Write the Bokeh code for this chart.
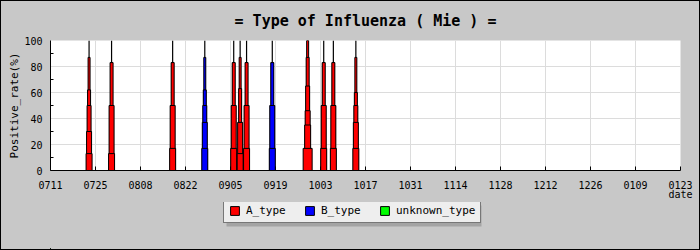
from datetime import datetime
from bokeh.plotting import figure
from bokeh.layouts import column
from bokeh.models import (Range1d, FixedTicker, DatetimeTickFormatter, Legend, LegendItem,
                          ColumnDataSource, BoxAnnotation)
from bokeh.embed import file_html
from bokeh.resources import INLINE

# ---------------- data ----------------
tick_dates = ["2009-07-11", "2009-07-25", "2009-08-08", "2009-08-22", "2009-09-05",
              "2009-09-19", "2009-10-03", "2009-10-17", "2009-10-31", "2009-11-14",
              "2009-11-28", "2009-12-12", "2009-12-26", "2010-01-09", "2010-01-23"]
spike_dates = ["2009-07-23", "2009-07-30", "2009-08-18", "2009-08-28", "2009-09-06",
               "2009-09-08", "2009-09-10", "2009-09-18", "2009-09-29", "2009-10-04",
               "2009-10-07", "2009-10-14"]
spike_types = ["A_type", "A_type", "A_type", "B_type", "A_type", "A_type",
               "A_type", "B_type", "A_type", "A_type", "A_type", "A_type"]
# positive rate (%) of the nested bars of each spike, from the thinnest to the widest
rate_peak = [100, 100, 100, 100, 100, 100, 100, 100, 100, 100, 100, 100]
rate_l1 = [87, 83, 83, 87, 83, 87, 83, 83, 100, 83, 83, 87]
rate_l2 = [62, 83, 83, 62, 83, 63, 83, 83, 87, 83, 83, 60]
rate_l3 = [50, 50, 50, 50, 50, 37, 50, 50, 65, 50, 50, 50]
rate_l4 = [30, 50, 50, 37, 50, 37, 50, 50, 46, 50, 50, 37]
rate_l5 = [13, 13, 17, 17, 17, 13, 17, 17, 35, 17, 17, 17]
rate_l6 = [0, 0, 0, 0, 0, 0, 0, 0, 17, 0, 0, 0]
legend_labels = ["A_type", "B_type", "unknown_type"]
type_colors = {"A_type": "#ff0000", "B_type": "#0000ff", "unknown_type": "#00ff00"}

# ---------------- helpers ----------------
def d(s):
    return datetime.strptime(s, "%Y-%m-%d")

x_start, x_end = d(tick_dates[0]), d(tick_dates[-1])
frame_w = 630.0
ms_per_px = (x_end - x_start).total_seconds() * 1000.0 / frame_w
ticks_ms = [(d(t) - datetime(1970, 1, 1)).total_seconds() * 1000.0 for t in tick_dates]

FONT = "DejaVu Sans Mono"
BG = "#c8c8c8"

p = figure(width=698, height=201, output_backend="svg", toolbar_location=None,
           x_axis_type="datetime", x_range=Range1d(x_start, x_end), y_range=Range1d(0, 100),
           min_border_left=49, min_border_right=19, min_border_top=39, min_border_bottom=32,
           title="= Type of Influenza ( Mie ) =")
p.background_fill_color = "white"
p.border_fill_color = BG
p.outline_line_color = None

p.title.align = "center"
p.title.vertical_align = "top"
p.title.text_font = FONT
p.title.text_font_style = "bold"
p.title.text_font_size = "15px"
p.title.text_color = "black"
p.title.standoff = 18

# grids
p.xgrid.ticker = FixedTicker(ticks=ticks_ms)
p.ygrid.ticker = FixedTicker(ticks=[20, 40, 60, 80])
p.grid.grid_line_color = "#dcdcdc"
p.grid.grid_line_width = 1

# axes
p.xaxis.ticker = FixedTicker(ticks=ticks_ms)
fmt = "%m%d"
p.xaxis.formatter = DatetimeTickFormatter(days=fmt, months=fmt, years=fmt, hours=fmt,
                                          hourmin=fmt, minutes=fmt, minsec=fmt,
                                          seconds=fmt, milliseconds=fmt, microseconds=fmt)
p.xaxis.major_tick_in = 4
p.xaxis.major_tick_out = 0
p.xaxis.major_label_standoff = 10
p.xaxis.axis_label = "date"
p.xaxis.axis_label_align = "end"
p.xaxis.axis_label_standoff = -3
p.yaxis.ticker = FixedTicker(ticks=[0, 20, 40, 60, 80, 100], minor_ticks=[10, 30, 50, 70, 90])
p.yaxis.major_tick_in = 0
p.yaxis.major_tick_out = 0
p.yaxis.minor_tick_in = 3
p.yaxis.minor_tick_out = 0
p.yaxis.major_label_standoff = 8
p.yaxis.axis_label = "Positive_rate(%)"
p.yaxis.axis_label_standoff = 0
p.yaxis.axis_label_text_font_size = "11px"
for ax in (p.xaxis, p.yaxis):
    ax.axis_line_color = "black"
    ax.major_tick_line_color = "black"
    ax.minor_tick_line_color = "black"
    ax.major_label_text_font = FONT
    ax.major_label_text_font_size = "10px"
    ax.major_label_text_color = "black"
    ax.axis_label_text_font = FONT
    ax.axis_label_text_font_style = "normal"
    ax.axis_label_text_color = "black"
p.xaxis.axis_label_text_font_size = "10px"
p.xaxis.minor_tick_line_color = None

# ---------------- bars ----------------
xs = [d(s) for s in spike_dates]
colors = [type_colors[t] for t in spike_types]

p.segment(x0=xs, x1=xs, y0=[0] * len(xs), y1=rate_peak, line_color="black", line_width=1.2)

level_px = [3, 4, 5, 6, 7, 10]
levels = [rate_l1, rate_l2, rate_l3, rate_l4, rate_l5, rate_l6]
for px, vals in zip(level_px, levels):
    src = ColumnDataSource(dict(x=xs, top=vals, color=colors))
    p.vbar(x="x", top="top", bottom=0, width=(px - 1) * ms_per_px, source=src,
           fill_color="color", line_color="black", line_width=1)

# ---------------- legend strip (frame aligned with the plot frame: page x 50..680) ----------------
lg = figure(width=698, height=47, output_backend="svg", toolbar_location=None,
            x_range=Range1d(0, 630), y_range=Range1d(0, 47),
            x_axis_location=None, y_axis_location=None,
            min_border_left=49, min_border_right=19, min_border_top=0, min_border_bottom=0)
lg.grid.visible = False
lg.background_fill_alpha = 0
lg.border_fill_color = BG
lg.outline_line_color = None

lg.add_layout(BoxAnnotation(left=176, right=431, bottom=23, top=44,
                            fill_color="#a4a4a4", fill_alpha=1, line_color=None))
items = []
for lab in legend_labels:
    r = lg.vbar(x=[-500], top=[1], width=1, fill_color=type_colors[lab], line_color="black")
    items.append(LegendItem(label=lab, renderers=[r]))

legend = Legend(items=items, orientation="horizontal", location=(173, 26),
                background_fill_color="#eeeeee", background_fill_alpha=1,
                border_line_color="black", border_line_width=1,
                label_text_font=FONT, label_text_font_size="11px", label_text_color="black",
                glyph_width=11, glyph_height=11, label_standoff=6, spacing=12,
                label_width=46, padding=5, margin=0, label_height=11)
lg.add_layout(legend, "center")

layout = column(p, lg, spacing=0,
                styles={"border": "1px solid black", "background-color": BG})

open("out.html", "w").write(file_html(layout, INLINE))
